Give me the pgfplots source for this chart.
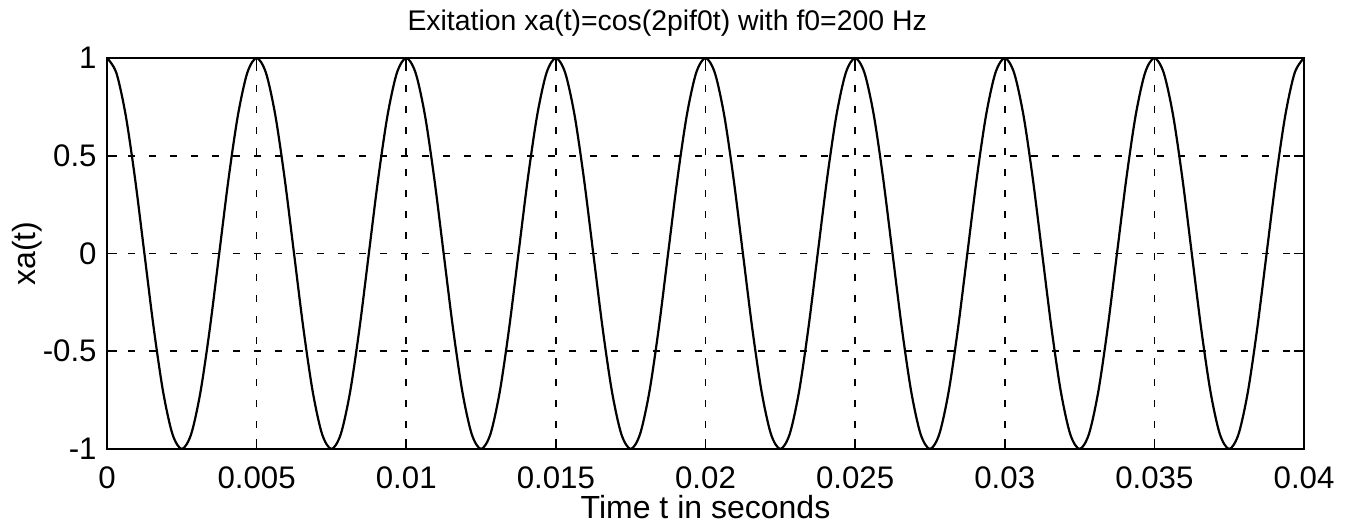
\documentclass[border=0pt]{standalone}
\usepackage{pgfplots}
\pgfplotsset{compat=1.18}
\usepackage{fontspec}
\setmainfont{Liberation Sans}
\begin{document}
\pgfplotstableread{
t y
0 1
0.3125 0.9239
0.625 0.7071
0.9375 0.3827
1.25 0
1.5625 -0.3827
1.875 -0.7071
2.1875 -0.9239
2.5 -1
2.8125 -0.9239
3.125 -0.7071
3.4375 -0.3827
3.75 0
4.0625 0.3827
4.375 0.7071
4.6875 0.9239
5 1
5.3125 0.9239
5.625 0.7071
5.9375 0.3827
6.25 0
6.5625 -0.3827
6.875 -0.7071
7.1875 -0.9239
7.5 -1
7.8125 -0.9239
8.125 -0.7071
8.4375 -0.3827
8.75 0
9.0625 0.3827
9.375 0.7071
9.6875 0.9239
10 1
10.3125 0.9239
10.625 0.7071
10.9375 0.3827
11.25 0
11.5625 -0.3827
11.875 -0.7071
12.1875 -0.9239
12.5 -1
12.8125 -0.9239
13.125 -0.7071
13.4375 -0.3827
13.75 0
14.0625 0.3827
14.375 0.7071
14.6875 0.9239
15 1
15.3125 0.9239
15.625 0.7071
15.9375 0.3827
16.25 0
16.5625 -0.3827
16.875 -0.7071
17.1875 -0.9239
17.5 -1
17.8125 -0.9239
18.125 -0.7071
18.4375 -0.3827
18.75 0
19.0625 0.3827
19.375 0.7071
19.6875 0.9239
20 1
20.3125 0.9239
20.625 0.7071
20.9375 0.3827
21.25 0
21.5625 -0.3827
21.875 -0.7071
22.1875 -0.9239
22.5 -1
22.8125 -0.9239
23.125 -0.7071
23.4375 -0.3827
23.75 0
24.0625 0.3827
24.375 0.7071
24.6875 0.9239
25 1
25.3125 0.9239
25.625 0.7071
25.9375 0.3827
26.25 0
26.5625 -0.3827
26.875 -0.7071
27.1875 -0.9239
27.5 -1
27.8125 -0.9239
28.125 -0.7071
28.4375 -0.3827
28.75 0
29.0625 0.3827
29.375 0.7071
29.6875 0.9239
30 1
30.3125 0.9239
30.625 0.7071
30.9375 0.3827
31.25 0
31.5625 -0.3827
31.875 -0.7071
32.1875 -0.9239
32.5 -1
32.8125 -0.9239
33.125 -0.7071
33.4375 -0.3827
33.75 0
34.0625 0.3827
34.375 0.7071
34.6875 0.9239
35 1
35.3125 0.9239
35.625 0.7071
35.9375 0.3827
36.25 0
36.5625 -0.3827
36.875 -0.7071
37.1875 -0.9239
37.5 -1
37.8125 -0.9239
38.125 -0.7071
38.4375 -0.3827
38.75 0
39.0625 0.3827
39.375 0.7071
39.6875 0.9239
40 1
}\datatable
\begin{tikzpicture}
\begin{axis}[
  name=ax,
  scale only axis,
  width=598.5pt, height=195.5pt,
  xmin=0, xmax=40, ymin=-1, ymax=1,
  xtick={0,5,...,40},
  xticklabels={0,0.005,0.01,0.015,0.02,0.025,0.03,0.035,0.04},
  ytick={-1,-0.5,0,0.5,1},
  yticklabels={-1,-0.5,0,0.5,1},
  tick align=inside,
  major tick length=5pt,
  tick style={black, line width=0.8pt},
  axis line style={black, line width=1pt},
  grid=major,
  major grid style={black, line width=0.8pt, dash pattern=on 3.5pt off 7pt},
  /pgf/number format/assume math mode=true,
  ticklabel style={font=\fontsize{15.6}{18}\selectfont},
  xticklabel style={anchor=base, yshift=-19.5pt},
  yticklabel style={anchor=east, inner sep=0pt, xshift=-5pt},
  label style={font=\fontsize{16}{19}\selectfont},
  every axis title shift=0pt,
  title style={font=\fontsize{14.2}{16}\selectfont, at={(axis description cs:0.468,1.0716)}, anchor=base},
  title={Exitation xa(t)=cos(2pif0t) with f0=200 Hz},
  xlabel={Time t in seconds},
  ylabel={xa(t)},
  xlabel style={at={(axis description cs:0.5,-0.1765)}, anchor=base},
  ylabel style={at={(axis description cs:-0.0668,0.5)}, anchor=center},
]
\addplot[black, line width=1.1pt, smooth] table[x=t, y=y] {\datatable};
\end{axis}
\pgfresetboundingbox
\path[use as bounding box] ([xshift=-53.5pt, yshift=-41pt]ax.south west) rectangle ([xshift=24.5pt, yshift=29pt]ax.north east);
\end{tikzpicture}
\end{document}
